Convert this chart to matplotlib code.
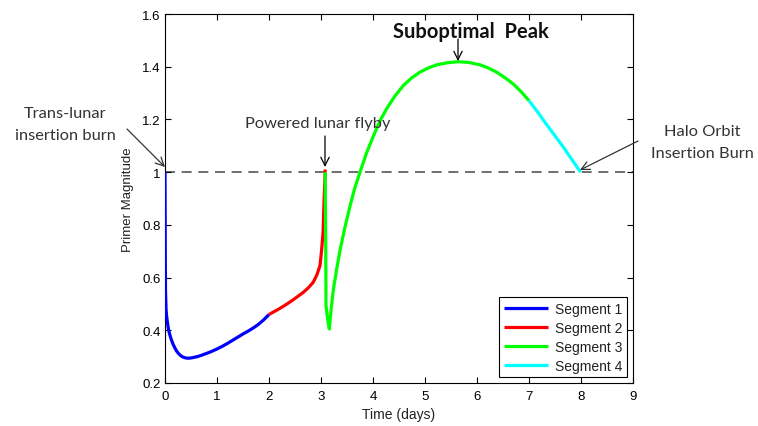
import matplotlib
matplotlib.use("Agg")
import matplotlib.pyplot as plt

# Segment data (time in days, primer magnitude)
seg1_t = [0.0, 0.003, 0.006, 0.01, 0.02, 0.03, 0.05, 0.07, 0.1, 0.13, 0.16, 0.19, 0.22, 0.26, 0.3, 0.35, 0.4, 0.45, 0.5, 0.55, 0.62, 0.7, 0.78, 0.85, 0.92, 1.0, 1.1, 1.2, 1.3, 1.4, 1.5, 1.6, 1.7, 1.8, 1.9, 2.0]
seg1_v = [1.0, 0.84, 0.66, 0.55, 0.48, 0.455, 0.425, 0.40, 0.378, 0.36, 0.345, 0.333, 0.322, 0.312, 0.304, 0.298, 0.295, 0.294, 0.295, 0.297, 0.3, 0.305, 0.311, 0.316, 0.322, 0.329, 0.339, 0.35, 0.362, 0.374, 0.386, 0.397, 0.409, 0.423, 0.44, 0.46]

seg2_t = [2.0, 2.1, 2.2, 2.3, 2.4, 2.53, 2.66, 2.76, 2.85, 2.92, 2.98, 3.01, 3.04, 3.06, 3.075, 3.08]
seg2_v = [0.46, 0.471, 0.482, 0.494, 0.507, 0.525, 0.544, 0.562, 0.582, 0.61, 0.645, 0.70, 0.772, 0.898, 0.97, 1.01]

seg3_t = [3.08, 3.09, 3.096, 3.13, 3.16, 3.2, 3.24, 3.3, 3.37, 3.46, 3.56, 3.65, 3.75, 3.88, 4.01, 4.13, 4.26, 4.42, 4.58, 4.74, 4.90, 5.06, 5.22, 5.43, 5.64, 5.85, 6.06, 6.22, 6.38, 6.54, 6.70, 6.85, 7.0]
seg3_v = [1.0, 0.75, 0.494, 0.44, 0.405, 0.49, 0.557, 0.63, 0.708, 0.79, 0.873, 0.94, 1.0, 1.075, 1.138, 1.193, 1.24, 1.288, 1.328, 1.357, 1.379, 1.395, 1.407, 1.415, 1.419, 1.416, 1.407, 1.395, 1.379, 1.358, 1.334, 1.305, 1.271]

seg4_t = [7.0, 7.17, 7.34, 7.5, 7.66, 7.82, 7.99]
seg4_v = [1.271, 1.227, 1.180, 1.138, 1.095, 1.049, 1.0]

seg_labels = ["Segment 1", "Segment 2", "Segment 3", "Segment 4"]
seg_colors = ["#0000ff", "#ff0000", "#00ff00", "#00ffff"]

x_ticks = [0, 1, 2, 3, 4, 5, 6, 7, 8, 9]
y_ticks = [0.2, 0.4, 0.6, 0.8, 1.0, 1.2, 1.4, 1.6]
y_tick_labels = ["0.2", "0.4", "0.6", "0.8", "1", "1.2", "1.4", "1.6"]

W, H = 758, 427
fig = plt.figure(figsize=(W/100, H/100), dpi=100)
ax = fig.add_axes([165/W, 1 - 384/H, (633-165)/W, (384-15)/H])

ax.axhline(1.0, color="#555555", linestyle=(0, (6, 4)), linewidth=1.2, zorder=1)

for t, v, lab, c in zip([seg1_t, seg2_t, seg3_t, seg4_t],
                        [seg1_v, seg2_v, seg3_v, seg4_v], seg_labels, seg_colors):
    ax.plot(t, v, color=c, linewidth=2.3, label=lab, zorder=3,
            solid_joinstyle="round", solid_capstyle="butt")

ax.set_xlim(0, 9)
ax.set_ylim(0.2, 1.6)
ax.set_xticks(x_ticks)
ax.set_xticklabels([str(x) for x in x_ticks])
ax.set_yticks(y_ticks)
ax.set_yticklabels(y_tick_labels)

for lbl in ax.get_xticklabels() + ax.get_yticklabels():
    lbl.set_fontfamily("Liberation Sans")
    lbl.set_fontsize(9.5)
    lbl.set_color("#222222")
ax.tick_params(direction="in", top=True, right=True, length=4, width=0.8, colors="black")
ax.tick_params(axis="x", pad=5)
ax.tick_params(axis="y", pad=3)
for s in ax.spines.values():
    s.set_linewidth(0.8)

ax.set_xlabel("Time (days)", fontfamily="Liberation Sans", fontsize=10, labelpad=4, color="#222222")
ax.set_ylabel("Primer Magnitude", fontfamily="Liberation Sans", fontsize=9.5, labelpad=6, color="#222222")

leg = ax.legend(loc="lower right", prop={"family": "Liberation Sans", "size": 10},
                fancybox=False, edgecolor="black", framealpha=1, handlelength=3.2,
                borderaxespad=0.4, labelspacing=0.35, handletextpad=0.5, borderpad=0.35)
leg.get_frame().set_linewidth(0.8)
for txt in leg.get_texts():
    txt.set_color("#222222")

ann_font = dict(family="Lato", size=11.8, color="#333333")
arrow = dict(arrowstyle="->", color="#333333", lw=0.9, mutation_scale=15,
             shrinkA=0, shrinkB=0)

def fig_xy(px, py):
    return (px, H - py)

# texts
fig.text(65/W, 1 - 125/H, "Trans-lunar\ninsertion burn", ha="center", va="center",
         linespacing=1.65, **ann_font)
fig.text(318/W, 1 - 124/H, "Powered lunar flyby", ha="center", va="center", **ann_font)
fig.text(471/W, 1 - 32/H, "Suboptimal  Peak", ha="center", va="center",
         family="Lato", size=14.5, weight="bold", color="#111111")
fig.text(702/W, 1 - 143/H, "Halo Orbit\nInsertion Burn", ha="center", va="center",
         linespacing=1.65, **ann_font)

# arrows
ax.annotate("", xy=fig_xy(165, 168), xycoords="figure pixels",
            xytext=fig_xy(127, 130), textcoords="figure pixels",
            arrowprops=arrow, annotation_clip=False)
ax.annotate("", xy=fig_xy(325, 168), xycoords="figure pixels",
            xytext=fig_xy(325, 137), textcoords="figure pixels",
            arrowprops=dict(arrow, color="black"), annotation_clip=False)
ax.annotate("", xy=fig_xy(458, 62), xycoords="figure pixels",
            xytext=fig_xy(458, 40), textcoords="figure pixels",
            arrowprops=dict(arrow, color="black"), annotation_clip=False)
ax.annotate("", xy=fig_xy(580, 171), xycoords="figure pixels",
            xytext=fig_xy(638, 142), textcoords="figure pixels",
            arrowprops=arrow, annotation_clip=False)

fig.savefig("out.png", dpi=100)
